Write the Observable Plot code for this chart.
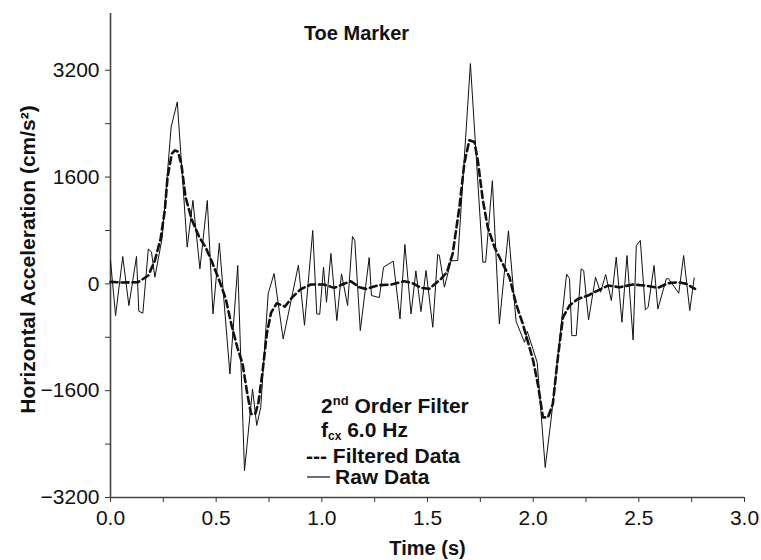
<!DOCTYPE html>
<html><head><meta charset="utf-8">
<script src="https://cdn.jsdelivr.net/npm/d3@7"></script>
<script src="https://cdn.jsdelivr.net/npm/@observablehq/plot@0.6"></script>
<style>body{margin:0;background:#fff}</style>
</head><body><div id="chart"></div>
<script>
// Raw data (time s, horizontal acceleration cm/s^2)
const rawTime = [0.000,0.024,0.058,0.087,0.123,0.134,0.153,0.179,0.194,0.210,0.245,0.287,0.316,0.363,0.390,0.423,0.458,0.485,0.515,0.565,0.602,0.634,0.672,0.692,0.711,0.746,0.774,0.817,0.889,0.918,0.957,0.976,0.990,1.008,1.022,1.043,1.071,1.093,1.122,1.145,1.156,1.182,1.224,1.235,1.272,1.292,1.338,1.370,1.393,1.422,1.445,1.469,1.493,1.525,1.548,1.556,1.580,1.611,1.643,1.703,1.762,1.775,1.807,1.840,1.883,1.919,1.959,1.972,2.019,2.057,2.085,2.158,2.172,2.183,2.204,2.227,2.239,2.262,2.295,2.319,2.343,2.370,2.393,2.420,2.444,2.473,2.488,2.507,2.531,2.544,2.572,2.590,2.630,2.640,2.689,2.712,2.741,2.762];
const rawAccel = [350,-475,410,-325,410,-410,-440,525,475,100,700,2350,2725,550,1250,225,1250,-450,610,-1350,275,-2800,-1575,-2120,-1850,-150,155,-825,280,-620,800,-450,-455,250,-275,455,-550,150,-325,710,650,-700,395,-175,-205,250,340,-525,590,-450,195,-415,200,-650,440,430,-50,345,350,3300,325,325,1545,-600,795,-560,-875,-710,-1175,-2750,-2025,145,80,-775,-775,225,200,-540,100,-125,140,-250,400,-575,425,-840,575,650,-390,-350,275,-375,75,80,-140,425,-400,90];
// Filtered data (2nd order filter, fcx 6.0 Hz)
const filtTime = [0.000,0.060,0.130,0.179,0.210,0.237,0.257,0.270,0.290,0.305,0.319,0.335,0.355,0.385,0.420,0.450,0.480,0.515,0.545,0.575,0.600,0.625,0.645,0.665,0.685,0.700,0.720,0.740,0.760,0.787,0.825,0.860,0.900,0.948,1.011,1.058,1.096,1.137,1.177,1.209,1.270,1.327,1.390,1.430,1.469,1.508,1.564,1.592,1.619,1.651,1.674,1.698,1.722,1.738,1.762,1.785,1.817,1.848,1.888,1.919,1.951,1.978,2.000,2.025,2.046,2.070,2.093,2.117,2.141,2.172,2.212,2.259,2.306,2.354,2.409,2.472,2.530,2.590,2.638,2.686,2.725,2.766];
const filtAccel = [30,20,25,125,350,675,1100,1600,1950,2000,1980,1800,1300,960,700,550,330,50,-220,-650,-950,-1200,-1600,-1950,-1950,-1780,-1300,-740,-430,-290,-340,-200,-80,-10,-10,-60,-10,40,-50,-75,-20,-10,40,10,-60,-75,75,175,450,1150,1800,2150,2125,1850,1250,850,550,350,100,-300,-600,-900,-1150,-1550,-2000,-2000,-1800,-1100,-500,-325,-225,-175,-100,-25,-50,-10,-25,-60,10,25,0,-75];

const xTicks = [0,0.25,0.5,0.75,1,1.25,1.5,1.75,2,2.25,2.5,2.75,3];
const xTickLabels = ["0.0","","0.5","","1.0","","1.5","","2.0","","2.5","","3.0"];
const yTicks = [-3200,-2400,-1600,-800,0,800,1600,2400,3200];
const yTickLabels = ["\u22123200","","\u22121600","","0","","1600","","3200"];
const titleText = "Toe Marker";
const xLabel = "Time (s)";
const yLabel = "Horizontal Acceleration (cm/s\u00B2)";

const raw = rawTime.map((t, i) => ({t, v: rawAccel[i]}));
const filt = filtTime.map((t, i) => ({t, v: filtAccel[i]}));
const xFmt = new Map(xTicks.map((d, i) => [d, xTickLabels[i]]));
const yFmt = new Map(yTicks.map((d, i) => [d, yTickLabels[i]]));
const font = "'Liberation Sans', Arial, Helvetica, sans-serif";

const plot = Plot.plot({
  width: 761, height: 560,
  marginLeft: 110, marginRight: 17, marginTop: 13, marginBottom: 63,
  style: {fontFamily: font, fontSize: "21px", background: "#fff", color: "#111"},
  x: {domain: [0, 3]},
  y: {domain: [-3200, 4050]},
  marks: [
    Plot.axisX({ticks: xTicks, tickFormat: d => xFmt.get(d), tickSize: 5, tickPadding: 8, fontSize: 21, label: null, stroke: "#333"}),
    Plot.axisY({ticks: yTicks, tickFormat: d => yFmt.get(d), tickSize: 5, tickPadding: 6, fontSize: 21, label: null, stroke: "#333"}),
    Plot.ruleX([0], {stroke: "#444", strokeWidth: 1.6}),
    Plot.ruleY([-3200], {stroke: "#444", strokeWidth: 1.6}),
    Plot.line(raw, {x: "t", y: "v", stroke: "#111", strokeWidth: 1}),
    Plot.line(filt, {x: "t", y: "v", stroke: "#111", strokeWidth: 2.6, strokeDasharray: "7,4"}),
    Plot.text([titleText], {frameAnchor: "top-left", dx: 246, dy: 20, textAnchor: "middle", lineAnchor: "middle", fontWeight: "bold", fontSize: 20}),
    Plot.text([xLabel], {frameAnchor: "bottom", dy: 51, lineAnchor: "middle", fontWeight: "bold", fontSize: 20}),
    Plot.text([yLabel], {frameAnchor: "left", rotate: -90, dx: -82, dy: 4, lineAnchor: "middle", textAnchor: "middle", fontWeight: "bold", fontSize: 21})
  ]
});

// Legend / annotation block
const svg = d3.select(plot);
const g = svg.append("g").attr("font-family", font).attr("font-weight", "bold").attr("font-size", 21).attr("fill", "#111").attr("text-anchor", "start");
const t1 = g.append("text").attr("x", 321).attr("y", 413);
t1.append("tspan").text("2");
t1.append("tspan").attr("font-size", 13).attr("dy", -8).text("nd");
t1.append("tspan").attr("dy", 8).text(" Order Filter");
const t2 = g.append("text").attr("x", 321).attr("y", 437);
t2.append("tspan").text("f");
t2.append("tspan").attr("font-size", 12).attr("dy", 3).text("cx");
t2.append("tspan").attr("dy", -3).text(" 6.0 Hz");
g.append("text").attr("x", 306).attr("y", 463).text("--- Filtered Data");
g.append("line").attr("x1", 307).attr("x2", 330).attr("y1", 477).attr("y2", 477).attr("stroke", "#111").attr("stroke-width", 1.2);
g.append("text").attr("x", 335).attr("y", 484).text("Raw Data");

document.getElementById("chart").appendChild(plot);
</script></body></html>
